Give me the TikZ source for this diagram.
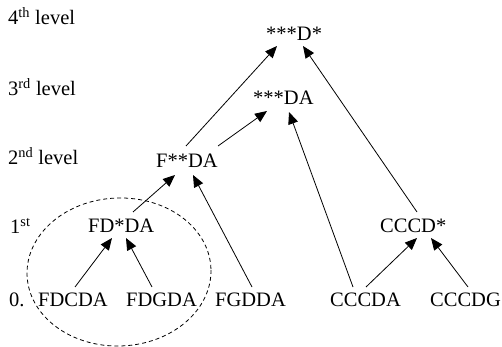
\documentclass[tikz,border=0pt]{standalone}
\usepackage{fontspec}
\setmainfont{Liberation Serif}
\usetikzlibrary{arrows.meta}
\begin{document}
\begin{tikzpicture}[x=1pt,y=1pt,
  lbl/.style={anchor=base west,inner sep=0pt,font=\fontsize{20.5}{24}\selectfont},
  arr/.style={-{Triangle[length=12pt,width=10pt]},line width=0.8pt},
  grp/.style={dashed,line width=0.8pt,dash pattern=on 4pt off 3pt}]
\useasboundingbox (0,0) rectangle (502,347);
% level labels
\node[lbl] (l4) at (8,322) {4\textsuperscript{th} level};
\node[lbl] (l3) at (8,251) {3\textsuperscript{rd} level};
\node[lbl] (l2) at (8,182) {2\textsuperscript{nd} level};
\node[lbl] (l1) at (10,113) {1\textsuperscript{st}};
\node[lbl] (l0) at (9,40) {0.};
% nodes
\node[lbl] (d4) at (266,306) {***D*};
\node[lbl] (da3) at (253,242) {***DA};
\node[lbl] (f2) at (156,179) {F**DA};
\node[lbl] (fd1) at (88,114) {FD*DA};
\node[lbl] (c1) at (380,114) {CCCD*};
\node[lbl] (fdcda) at (38,40) {FDCDA};
\node[lbl] (fdgda) at (126,40) {FDGDA};
\node[lbl] (fgdda) at (215,40) {FGDDA};
\node[lbl] (cccda) at (330,40) {CCCDA};
\node[lbl] (cccdg) at (430,40) {CCCDG};
% group ellipse
\coordinate (gc) at (119,75);
\draw[grp,rotate around={2:(gc)}] (gc) ellipse [x radius=92, y radius=74];
% connectors
\draw[arr] ([shift={(30,22)}]f2.base west) -- ([shift={(11,-5)}]d4.base west);
\draw[arr] ([shift={(62,22)}]f2.base west) -- ([shift={(14,-6)}]da3.base west);
\draw[arr] ([shift={(23,20)}]cccda.base west) -- ([shift={(36,-7)}]da3.base west);
\draw[arr] ([shift={(37,21)}]c1.base west) -- ([shift={(37,-5)}]d4.base west);
\draw[arr] ([shift={(36,20)}]cccda.base west) -- ([shift={(37,-5)}]c1.base west);
\draw[arr] ([shift={(38,20)}]cccdg.base west) -- ([shift={(51,-5)}]c1.base west);
\draw[arr] ([shift={(45,21)}]fd1.base west) -- ([shift={(19,-7)}]f2.base west);
\draw[arr] ([shift={(37,20)}]fgdda.base west) -- ([shift={(37,-7)}]f2.base west);
\draw[arr] ([shift={(37,20)}]fdcda.base west) -- ([shift={(24,-5)}]fd1.base west);
\draw[arr] ([shift={(26,20)}]fdgda.base west) -- ([shift={(38,-5)}]fd1.base west);
\end{tikzpicture}
\end{document}
